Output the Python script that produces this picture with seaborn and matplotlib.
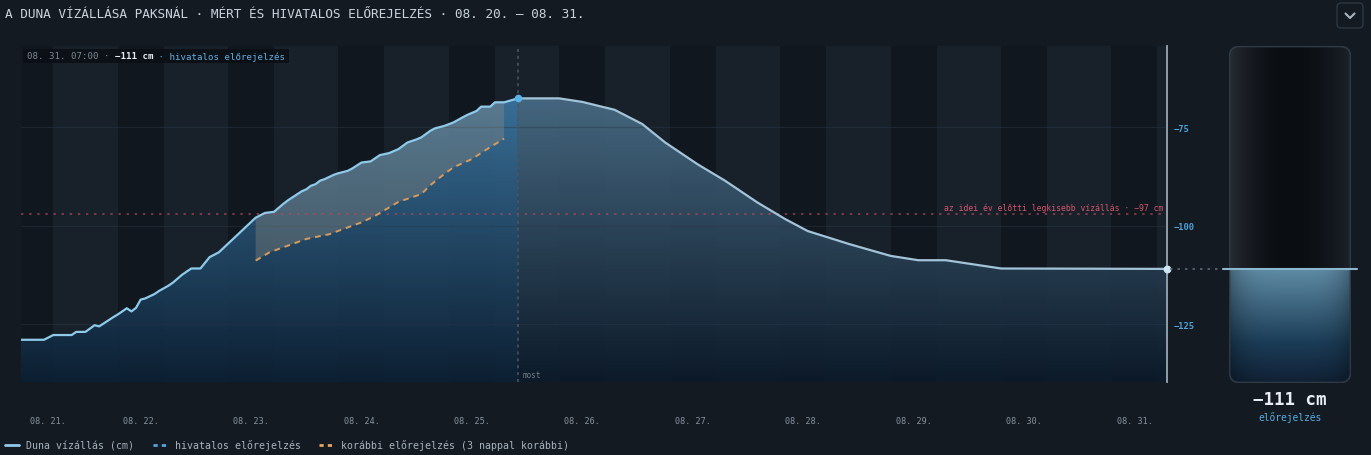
import numpy as np
import matplotlib
matplotlib.use("Agg")
import matplotlib.pyplot as plt
import matplotlib.colors as mcolors
import matplotlib.transforms as mtransforms
from matplotlib.patches import FancyBboxPatch, Rectangle
from matplotlib.lines import Line2D
import seaborn as sns

# hours counted from 08.21 00:00
measured_hours = [-2, 3, 5, 9, 10, 12, 14, 15, 18, 19, 21, 22, 23, 24, 25, 27, 28, 30, 31,
                  33, 35, 37, 39, 40, 41, 49, 51, 53, 55, 56, 59, 60, 61, 62, 63, 64, 66,
                  67, 69, 70, 72, 74, 76, 78, 80, 82, 84, 85, 87, 88, 90, 92, 94, 95, 97,
                  98, 100, 101, 103, 106]
measured_cm = [-129.0, -129.0, -127.8, -127.8, -127.0, -127.0, -125.3, -125.6, -123.3, -122.6,
               -121.0, -121.8, -120.9, -118.8, -118.5, -117.4, -116.6, -115.3, -114.5, -112.5,
               -110.9, -110.9, -108.0, -107.4, -106.8, -98.0, -96.8, -96.5, -94.5, -93.6,
               -91.3, -90.8, -89.9, -89.5, -88.6, -88.2, -87.1, -86.7, -86.1, -85.5, -84.0,
               -83.7, -82.1, -81.6, -80.6, -78.9, -78.1, -77.6, -75.9, -75.3, -74.7, -73.8,
               -72.5, -71.9, -70.9, -69.8, -69.8, -68.7, -68.7, -67.7]

forecast_hours = [106, 115, 120, 127, 133, 138, 145, 151, 158, 164, 169, 178, 187, 193, 199, 211, 247]
forecast_cm = [-67.7, -67.7, -68.6, -70.6, -74.2, -78.9, -84.4, -88.6, -94.1, -98.3, -101.4,
               -104.7, -107.7, -108.8, -108.8, -110.9, -111.0]

previous_hours = [49, 52, 56, 60, 65, 68, 72, 75, 78, 80, 85, 87, 90, 92, 96, 99, 103]
previous_cm = [-108.9, -106.8, -105.1, -103.4, -102.2, -100.9, -99.2, -97.5, -95.4, -94.0,
               -92.0, -89.7, -86.9, -85.2, -83.1, -80.8, -77.9]

record_low_cm = -97
y_ticks = [-125, -100, -75]
day_labels = ["08. 21.", "08. 22.", "08. 23.", "08. 24.", "08. 25.", "08. 26.",
              "08. 27.", "08. 28.", "08. 29.", "08. 30.", "08. 31."]

BG = "#131a22"
W, H = 1371, 456
YLIM = (-139.8, -54.4)
XLIM = (measured_hours[0], forecast_hours[-1])

sns.set_theme(style="dark")
plt.rcParams["font.family"] = ["DejaVu Sans Mono", "DejaVu Sans"]
plt.rcParams["axes.unicode_minus"] = True

fig = plt.figure(figsize=(W / 100, H / 100), dpi=100, facecolor=BG)
ax = fig.add_axes([21 / W, (H - 383.3) / H, (1166.7 - 21) / W, 336.3 / H])
ax.set_facecolor("#18212a")


def gradient_fill(ax, xs, ys, top, bottom, zorder):
    poly = ax.fill_between(xs, ys, YLIM[0], facecolor="none", edgecolor="none")
    path = poly.get_paths()[0]
    t = np.linspace(0, 1, 256)[:, None, None]
    c0 = np.array(mcolors.to_rgb(top))
    c1 = np.array(mcolors.to_rgb(bottom))
    img = c0 + (c1 - c0) * t
    im = ax.imshow(img, extent=(xs[0], xs[-1], YLIM[0], YLIM[1]), origin="upper",
                   aspect="auto", zorder=zorder, alpha=0.92)
    im.set_clip_path(path, transform=ax.transData)


# night bands (19:00 - 05:00)
for start in range(-5, 247, 24):
    ax.axvspan(start, start + 10, color="#000000", alpha=0.28, lw=0, zorder=0.5)

gradient_fill(ax, measured_hours, measured_cm, "#4586b5", "#0c2034", 1)
gradient_fill(ax, forecast_hours, forecast_cm, "#557d98", "#0c1a2a", 1)

for v in y_ticks:
    ax.axhline(v, color="#2a3947", lw=0.9, alpha=0.45, zorder=2)

# gap between earlier forecast and measured values
seg_h = [h for h in measured_hours if previous_hours[0] <= h <= previous_hours[-1]]
seg_v = [v for h, v in zip(measured_hours, measured_cm) if previous_hours[0] <= h <= previous_hours[-1]]
ax.fill(seg_h + previous_hours[::-1], seg_v + previous_cm[::-1],
        color="#9c9384", alpha=0.32, lw=0, zorder=2.2)

ax.axhline(record_low_cm, color="#b8475b", lw=1.3, ls=(0, (1.3, 3.2)), alpha=0.7, zorder=2.5)
ax.annotate(f"az idei év előtti legkisebb vízállás · {record_low_cm} cm".replace("-", "\u2212"),
            xy=(1, record_low_cm), xycoords=mtransforms.blended_transform_factory(ax.transAxes, ax.transData),
            xytext=(-2.5, 4.6), textcoords="offset points", ha="right", va="center",
            fontsize=5.9, color="#d4566c", zorder=6)

now_h, now_v = measured_hours[-1], measured_cm[-1]
ax.axvline(now_h, color="#4a5765", lw=1.1, ls=(0, (2, 2.5)), zorder=3)
ax.annotate("most", xy=(now_h, YLIM[0]), xytext=(3.5, 5.5), textcoords="offset points",
            ha="left", va="center", fontsize=5.5, color="#6f7b87", zorder=6)

sns.lineplot(x=measured_hours, y=measured_cm, ax=ax, color="#8fcaeb", lw=1.6, zorder=4)
sns.lineplot(x=forecast_hours, y=forecast_cm, ax=ax, color="#a3c3d8", lw=1.6, zorder=4)
sns.lineplot(x=previous_hours, y=previous_cm, ax=ax, color="#d99b5c", lw=1.4,
             dashes=False, zorder=4).lines[-1].set_dashes((3, 2.5))

ax.scatter([now_h], [now_v], s=30, color="#5ab4ea", zorder=5, lw=0)
ax.scatter([forecast_hours[-1]], [forecast_cm[-1]], s=32, color="#cfe6f5", zorder=7,
           lw=0, clip_on=False)

ax.set_xlim(XLIM)
ax.set_ylim(YLIM)
ax.grid(False)
ax.set_xlabel("")
ax.set_ylabel("")
for side in ["top", "left", "bottom"]:
    ax.spines[side].set_visible(False)
ax.spines["right"].set_color("#9ba7b3")
ax.spines["right"].set_linewidth(1.3)
ax.spines["right"].set_zorder(6)

ax.set_xticks(range(0, 241, 24))
ax.set_xticklabels(day_labels)
ax.tick_params(axis="x", length=0, pad=24.5, labelsize=6.1, labelcolor="#8893a0")
ax.get_xticklabels()[0].set_ha("left")
ax.yaxis.tick_right()
ax.set_yticks(y_ticks)
ax.tick_params(axis="y", length=0, pad=5.3, labelsize=6.3, labelcolor="#4ea3d8")
for lab in ax.get_yticklabels():
    lab.set_fontweight("bold")

# readout box top-left
last_h = forecast_hours[-1]
stamp = f"08. {21 + last_h // 24}. {last_h % 24:02d}:00 · "
value = f"{forecast_cm[-1]:.0f} cm".replace("-", "\u2212")
tail = " · hivatalos előrejelzés"
ax.add_patch(Rectangle((2 / 1145.7, 1 - 16.5 / 336.3), 266 / 1145.7, 13.5 / 336.3,
                       transform=ax.transAxes, color="#0b1016", alpha=0.9, lw=0, zorder=6))
adv = 0.602 * 6.55
x0 = 6
for txt, col, wt in [(stamp, "#7b8792", "normal"), (value, "#e6ecf1", "bold"), (tail, "#64b0e4", "normal")]:
    ax.annotate(txt, xy=(0, 1), xycoords="axes fraction", xytext=(x0 * 0.72, -7.1),
                textcoords="offset points", ha="left", va="center", fontsize=6.55,
                color=col, fontweight=wt, zorder=7)
    x0 += len(txt) * adv / 0.72

# gauge
gx = fig.add_axes([1229 / W, (H - 384) / H, 122 / W, 337 / H])
gx.set_xlim(0, 1)
gx.set_ylim(YLIM)
gx.axis("off")
px_x = 1 / 122
px_y = (YLIM[1] - YLIM[0]) / 337
shell = FancyBboxPatch((0.004, YLIM[0] + 0.5 * px_y), 0.992, YLIM[1] - YLIM[0] - px_y,
                       boxstyle=f"round,pad=0,rounding_size={10 * px_x}",
                       mutation_aspect=px_y / px_x, facecolor="none",
                       edgecolor="#2e3a46", lw=1.2, zorder=5)
gx.add_patch(shell)

xs = np.linspace(-1, 1, 120)
dark = np.array(mcolors.to_rgb("#0a0e13"))
left_c = np.array(mcolors.to_rgb("#272c32"))
right_c = np.array(mcolors.to_rgb("#1c2229"))
wgt = (np.abs(xs) ** 2)[:, None]
side = np.where(xs[:, None] < 0, left_c, right_c)
body = dark + (side - dark) * wgt
im = gx.imshow(np.tile(body[None], (2, 1, 1)), extent=(0, 1, YLIM[0], YLIM[1]),
               aspect="auto", zorder=1)
im.set_clip_path(shell)

level = forecast_cm[-1]
tv = np.linspace(0, 1, 200)[:, None]
c_top = np.array(mcolors.to_rgb("#5f8ba5"))
c_mid = np.array(mcolors.to_rgb("#1b3c56"))
c_bot = np.array(mcolors.to_rgb("#102034"))
vert = np.where(tv < 0.65, c_top + (c_mid - c_top) * (tv / 0.65),
                c_mid + (c_bot - c_mid) * ((tv - 0.65) / 0.35))
shade = 1 - 0.3 * np.abs(xs) ** 4
water = np.clip(vert[:, None, :] * shade[None, :, None], 0, 1)
im2 = gx.imshow(water, extent=(0, 1, YLIM[0], level), origin="upper", aspect="auto", zorder=2)
im2.set_clip_path(shell)
gx.set_xlim(0, 1)
gx.set_ylim(YLIM)

gx.plot([-0.05, 1.05], [level, level], color="#8db6cf", lw=1.5, zorder=6, clip_on=False)
gx.plot([-0.484, -0.06], [level, level], color="#5b6874", lw=1.2, ls=(0, (1.5, 3)),
        zorder=6, clip_on=False)

fig.text(1290 / W, 1 - 400 / H, value, ha="center", va="center", fontsize=12.5,
         fontweight="bold", color="#e8eef3")
fig.text(1290 / W, 1 - 418 / H, "előrejelzés", ha="center", va="center", fontsize=6.9,
         color="#5aaee0")

fig.text(5 / W, 1 - 14 / H, "A DUNA VÍZÁLLÁSA PAKSNÁL · MÉRT ÉS HIVATALOS ELŐREJELZÉS · 08. 20. – 08. 31.",
         ha="left", va="center", fontsize=9.2, color="#c9d2da")

# dropdown button top-right
fig.add_artist(FancyBboxPatch((1337 / 100, (H - 29) / 100), 26 / 100, 25 / 100,
                              boxstyle="round,pad=0,rounding_size=0.04",
                              transform=fig.dpi_scale_trans, facecolor="none",
                              edgecolor="#2b3744", lw=1))
fig.add_artist(Line2D([1345.5 / 100, 1350 / 100, 1354.5 / 100],
                      [(H - 14.5) / 100, (H - 19) / 100, (H - 14.5) / 100],
                      transform=fig.dpi_scale_trans, color="#aab6c2", lw=1.5))

handles = [
    Line2D([], [], color="#8fcaeb", lw=2),
    Line2D([], [], color="#4fa8e0", lw=2, dashes=(1.5, 1.5)),
    Line2D([], [], color="#e8a25e", lw=2, dashes=(1.5, 1.5)),
]
labels = ["Duna vízállás (cm)", "hivatalos előrejelzés", "korábbi előrejelzés (3 nappal korábbi)"]
fig.legend(handles, labels, loc="center left", bbox_to_anchor=(4.5 / W, 1 - 446 / H), ncol=3,
           frameon=False, fontsize=7.1, labelcolor="#aab4bf", handlelength=1.5,
           handletextpad=0.7, columnspacing=1.9, borderpad=0, borderaxespad=0)

fig.savefig("out.png", dpi=100, facecolor=BG)
